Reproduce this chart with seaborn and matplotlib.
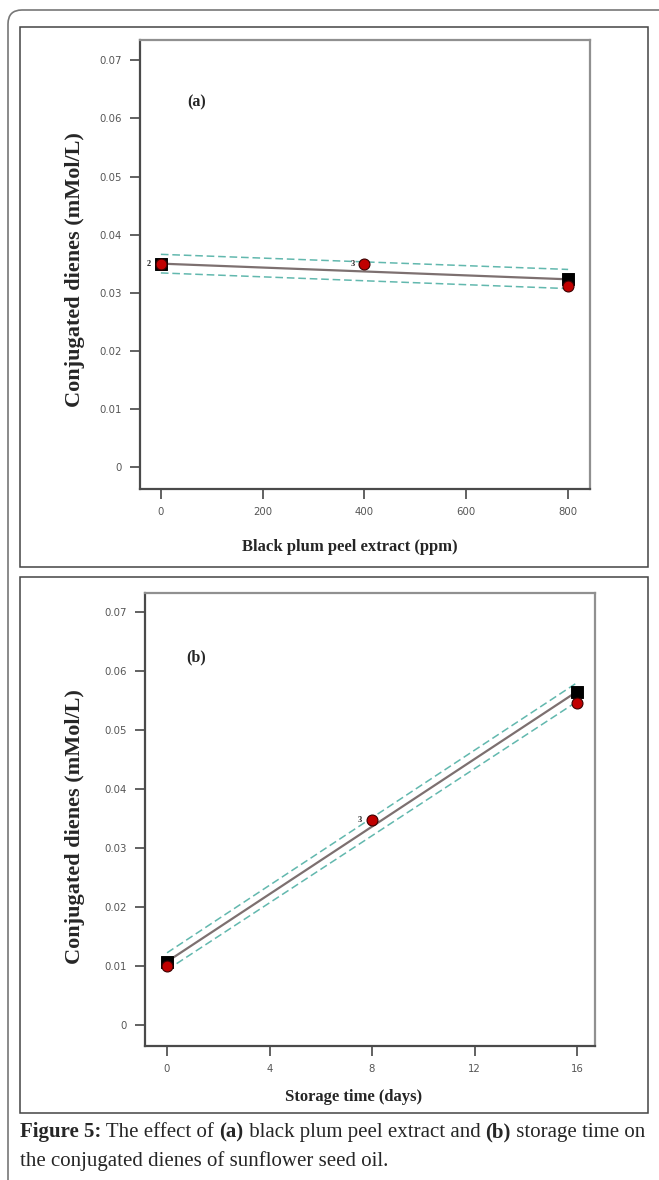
import numpy as np
import pandas as pd
import seaborn as sns
import matplotlib.pyplot as plt
from matplotlib.patches import Rectangle, FancyBboxPatch

# panel (a): black plum peel extract
ppm_design = [0, 400, 800]
ppm_actual = [0.0350, 0.0350, 0.0312]
ppm_pred_x = [0, 800]
ppm_pred = [0.0350, 0.0323]
ppm_upper = [0.0366, 0.0340]
ppm_lower = [0.0334, 0.0307]
ppm_ticks = [0, 200, 400, 600, 800]
ppm_reps = {0: "2", 400: "3"}

# panel (b): storage time
days_design = [0, 8, 16]
days_actual = [0.0100, 0.0347, 0.0545]
days_pred_x = [0, 16]
days_pred = [0.0107, 0.0565]
days_upper = [0.0122, 0.0580]
days_lower = [0.0093, 0.0548]
days_ticks = [0, 4, 8, 12, 16]
days_reps = {8: "3"}

y_ticks = [0, 0.01, 0.02, 0.03, 0.04, 0.05, 0.06, 0.07]
y_ticklabels = ["0", "0.01", "0.02", "0.03", "0.04", "0.05", "0.06", "0.07"]

sns.set_style("white")
plt.rcParams['font.family'] = ['DejaVu Sans']

W, H = 659, 1180
fig = plt.figure(figsize=(W / 100, H / 100), dpi=100)


def ax_rect(l, r, t, b):
    return [l / W, 1 - b / H, (r - l) / W, (b - t) / H]


def fx(x):
    return x / W


def fy(y):
    return 1 - y / H


serif = 'Liberation Serif'


def draw_panel(rect, xs, actual, px, pred, up, lo, xticks, xlim, ylim, reps, tag, tag_pos):
    ax = fig.add_axes(rect)
    fit = pd.DataFrame({'x': px, 'pred': pred, 'up': up, 'lo': lo})
    sns.lineplot(data=fit, x='x', y='up', ax=ax, color='#62b8ae', lw=1.1,
                 linestyle=(0, (5, 2.5)))
    sns.lineplot(data=fit, x='x', y='lo', ax=ax, color='#62b8ae', lw=1.1,
                 linestyle=(0, (5, 2.5)))
    sns.lineplot(data=fit, x='x', y='pred', ax=ax, color='#7d7070', lw=1.6)
    sns.scatterplot(data=fit, x='x', y='pred', ax=ax, marker='s', s=70, color='black',
                    edgecolor='black', zorder=5)
    pts = pd.DataFrame({'x': xs, 'y': actual})
    sns.scatterplot(data=pts, x='x', y='y', ax=ax, marker='o', s=62, color='#c00000',
                    edgecolor='#3a0000', linewidth=0.8, zorder=6)
    dx = (xlim[1] - xlim[0]) * 0.022
    for xv, lab in reps.items():
        yv = actual[xs.index(xv)]
        ax.text(xv - dx, yv, lab, ha='right', va='center', fontsize=6, fontweight='bold',
                family=serif)
    ax.set_xlim(*xlim)
    ax.set_ylim(*ylim)
    ax.set_xticks(xticks)
    ax.set_xticklabels([str(t) for t in xticks])
    ax.set_yticks(y_ticks)
    ax.set_yticklabels(y_ticklabels)
    ax.set_xlabel('')
    ax.set_ylabel('')
    ax.tick_params(axis='both', direction='out', length=7, width=1.3, color='#555555',
                   labelsize=7.3, labelcolor='#555555', pad=6, left=True, bottom=True)
    for side in ['left', 'bottom']:
        ax.spines[side].set_color('#4a4a4a')
        ax.spines[side].set_linewidth(1.6)
    for side in ['top', 'right']:
        ax.spines[side].set_color('#909090')
        ax.spines[side].set_linewidth(1.6)
    ax.text(tag_pos[0], tag_pos[1], tag, transform=ax.transAxes, ha='center', va='center',
            fontsize=11.5, fontweight='bold', family=serif)
    return ax


draw_panel(ax_rect(140, 590, 40, 489), ppm_design, ppm_actual, ppm_pred_x, ppm_pred,
           ppm_upper, ppm_lower, ppm_ticks, (-41, 843), (-0.0038, 0.0735), ppm_reps, '(a)',
           (0.125, 0.86))
draw_panel(ax_rect(145, 595, 593, 1046), days_design, days_actual, days_pred_x, days_pred,
           days_upper, days_lower, days_ticks, (-0.86, 16.7), (-0.0036, 0.0732), days_reps, '(b)',
           (0.113, 0.857))

# axis titles
fig.text(fx(350), fy(547), 'Black plum peel extract (ppm)', ha='center', va='center',
         fontsize=12, fontweight='bold', family=serif)
fig.text(fx(354), fy(1097), 'Storage time (days)', ha='center', va='center',
         fontsize=12, fontweight='bold', family=serif)
fig.text(fx(75), fy(270), 'Conjugated dienes (mMol/L)', ha='center', va='center',
         rotation=90, fontsize=16, fontweight='bold', family=serif)
fig.text(fx(75), fy(827), 'Conjugated dienes (mMol/L)', ha='center', va='center',
         rotation=90, fontsize=16, fontweight='bold', family=serif)

# frames
fig.add_artist(FancyBboxPatch((8 / 100, -0.5), 7.2, (H - 10) / 100 + 0.5,
                              boxstyle='round,pad=0,rounding_size=0.14',
                              transform=fig.dpi_scale_trans, fill=False,
                              ec='#777777', lw=1.2))
fig.add_artist(Rectangle((fx(20), fy(567)), fx(628), 540 / H, transform=fig.transFigure,
                         fill=False, ec='#444444', lw=1.1))
fig.add_artist(Rectangle((fx(20), fy(1113)), fx(628), 536 / H, transform=fig.transFigure,
                         fill=False, ec='#444444', lw=1.1))

# caption with mixed bold runs
renderer = fig.canvas.get_renderer()
line1 = [("Figure 5:", 'bold'), (" The effect of ", 'normal'), ("(a)", 'bold'),
         (" black plum peel extract and ", 'normal'), ("(b)", 'bold'),
         (" storage time on", 'normal')]
x = 20
for txt, wt in line1:
    t = fig.text(fx(x), fy(1137), txt, ha='left', va='baseline', fontsize=15,
                 fontweight=wt, family=serif)
    bb = t.get_window_extent(renderer)
    x = bb.x1
fig.text(fx(20), fy(1166), "the conjugated dienes of sunflower seed oil.", ha='left',
         va='baseline', fontsize=15, family=serif)

fig.savefig('out.png', dpi=100)
